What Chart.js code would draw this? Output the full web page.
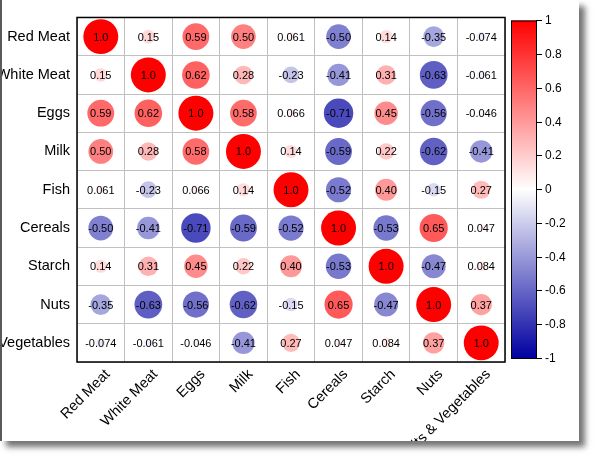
<!DOCTYPE html>
<html>
<head>
<meta charset="utf-8">
<script src="https://cdn.jsdelivr.net/npm/chart.js@4/dist/chart.umd.min.js"></script>
<style>
    html, body { margin: 0; padding: 0; background: #ffffff; }
    #frame {
        position: absolute;
        left: 0;
        top: 0;
        width: 577px;
        height: 441px;
        background: #ffffff;
        border-left: 2px solid #5a5a5a;
        box-shadow: 6px 6px 6px rgba(0, 0, 0, 0.55);
        overflow: hidden;
    }
</style>
</head>
<body>
<div id="frame">
    <canvas id="corrChart" width="577" height="441"></canvas>
</div>
<script>

// ================= DATA =================

const categories = [
    "Red Meat",
    "White Meat",
    "Eggs",
    "Milk",
    "Fish",
    "Cereals",
    "Starch",
    "Nuts",
    "Fruits & Vegetables"
];

const redMeat    = [1.0, 0.15, 0.59, 0.50, 0.061, -0.50, 0.14, -0.35, -0.074];
const whiteMeat  = [0.15, 1.0, 0.62, 0.28, -0.23, -0.41, 0.31, -0.63, -0.061];
const eggs       = [0.59, 0.62, 1.0, 0.58, 0.066, -0.71, 0.45, -0.56, -0.046];
const milk       = [0.50, 0.28, 0.58, 1.0, 0.14, -0.59, 0.22, -0.62, -0.41];
const fish       = [0.061, -0.23, 0.066, 0.14, 1.0, -0.52, 0.40, -0.15, 0.27];
const cereals    = [-0.50, -0.41, -0.71, -0.59, -0.52, 1.0, -0.53, 0.65, 0.047];
const starch     = [0.14, 0.31, 0.45, 0.22, 0.40, -0.53, 1.0, -0.47, 0.084];
const nuts       = [-0.35, -0.63, -0.56, -0.62, -0.15, 0.65, -0.47, 1.0, 0.37];
const fruitsVeg  = [-0.074, -0.061, -0.046, -0.41, 0.27, 0.047, 0.084, 0.37, 1.0];

const matrix = [redMeat, whiteMeat, eggs, milk, fish, cereals, starch, nuts, fruitsVeg];

const colorTicks = [1, 0.8, 0.6, 0.4, 0.2, 0, -0.2, -0.4, -0.6, -0.8, -1];
const colorTickLabels = ["1", "0.8", "0.6", "0.4", "0.2", "0", "-0.2", "-0.4", "-0.6", "-0.8", "-1"];


// ================= HELPERS =================

const FONT = "'Liberation Sans', Arial, sans-serif";

function corrColor(v) {
    if (v >= 0) {
        const c = Math.round(255 * (1 - v));
        return "rgb(255," + c + "," + c + ")";
    }
    const a = -v;
    const c = Math.round(255 * (1 - a));
    const b = Math.round(255 - a * 95);
    return "rgb(" + c + "," + c + "," + b + ")";
}

const points = [];
matrix.forEach((row, i) => {
    row.forEach((v, j) => {
        points.push({ x: categories[j], y: categories[i], v: v });
    });
});


// ================= PLUGINS =================

const cellText = {
    id: "cellText",
    afterDatasetsDraw(chart) {
        const ctx = chart.ctx;
        const meta = chart.getDatasetMeta(0);
        const data = chart.data.datasets[0].data;
        ctx.save();
        ctx.font = "11px " + FONT;
        ctx.fillStyle = "#000000";
        ctx.textAlign = "center";
        ctx.textBaseline = "middle";
        meta.data.forEach((el, k) => {
            ctx.fillText(data[k].v.toPrecision(2), el.x, el.y + 1);
        });
        ctx.restore();
    }
};

const frameAndBar = {
    id: "frameAndBar",
    afterDraw(chart) {
        const ctx = chart.ctx;
        const area = chart.chartArea;
        ctx.save();

        // plot border
        ctx.strokeStyle = "#000000";
        ctx.lineWidth = 1.5;
        ctx.strokeRect(area.left, area.top, area.right - area.left, area.bottom - area.top);

        // colour bar
        const bx = area.right + 6;
        const bw = 25;
        const by = area.top + 3;
        const bh = area.bottom - area.top - 7;
        const grad = ctx.createLinearGradient(0, by, 0, by + bh);
        grad.addColorStop(0, corrColor(1));
        grad.addColorStop(0.5, corrColor(0));
        grad.addColorStop(1, corrColor(-1));
        ctx.fillStyle = grad;
        ctx.fillRect(bx, by, bw, bh);
        ctx.lineWidth = 1;
        ctx.strokeRect(bx + 0.5, by + 0.5, bw, bh);

        ctx.font = "12px " + FONT;
        ctx.fillStyle = "#000000";
        ctx.textAlign = "left";
        ctx.textBaseline = "middle";
        colorTicks.forEach((t, k) => {
            const y = Math.round(by + (1 - t) / 2 * bh) + 0.5;
            ctx.beginPath();
            ctx.moveTo(bx + bw, y);
            ctx.lineTo(bx + bw + 6, y);
            ctx.stroke();
            ctx.fillText(colorTickLabels[k], bx + bw + 9, y);
        });

        ctx.restore();
    }
};


// ================= CHART =================

const corrChart = document.getElementById("corrChart");

if (corrChart) {

    new Chart(corrChart, {

        type: "bubble",

        data: {

            datasets: [{

                data: points,

                backgroundColor: ctx => corrColor(ctx.raw.v),

                borderWidth: 0,

                radius: ctx => {
                    const area = ctx.chart.chartArea;
                    const cell = area ? (area.bottom - area.top) / categories.length : 38;
                    return 0.46 * cell * Math.sqrt(Math.abs(ctx.raw.v));
                }

            }]

        },

        options: {

            responsive: false,

            animation: false,

            events: [],

            layout: {
                padding: { left: 0, top: 17, right: 74, bottom: 0 }
            },

            plugins: {
                legend: { display: false },
                tooltip: { enabled: false }
            },

            scales: {

                x: {
                    type: "category",
                    labels: categories,
                    offset: true,
                    grid: { offset: true, color: "#c0c0c0", drawTicks: false },
                    border: { display: false },
                    ticks: {
                        minRotation: 45,
                        maxRotation: 45,
                        padding: 4,
                        labelOffset: 7,
                        color: "#000000",
                        font: { family: FONT, size: 14.5 }
                    },
                    afterFit: scale => { scale.height = 79; }
                },

                y: {
                    type: "category",
                    labels: categories,
                    offset: true,
                    grid: { offset: true, color: "#c0c0c0", drawTicks: false },
                    border: { display: false },
                    ticks: {
                        padding: 7,
                        color: "#000000",
                        font: { family: FONT, size: 14.5 }
                    },
                    afterFit: scale => { scale.width = 75; }
                }

            }

        },

        plugins: [cellText, frameAndBar]

    });

}

</script>
</body>
</html>
